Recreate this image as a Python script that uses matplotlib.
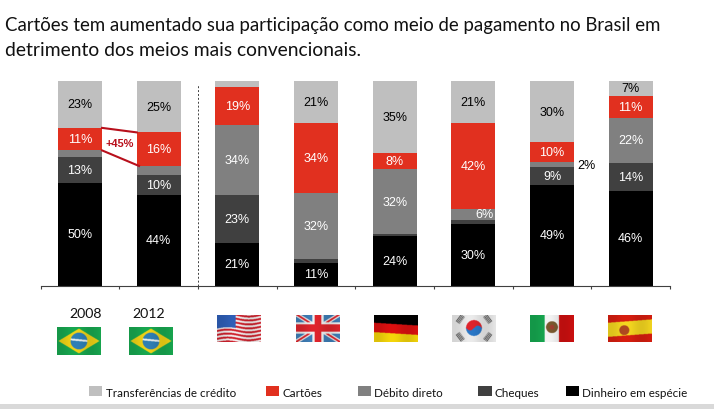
import numpy as np
import matplotlib
matplotlib.use('Agg')
import matplotlib.pyplot as plt
from matplotlib.patches import Rectangle

W, H = 714, 410

# bottom to top
dinheiro = [50, 44, 21, 11, 24, 30, 49, 46]
cheques = [13, 10, 23, 1.8, 1, 2, 8.8, 13.8]
debito = [3, 4.4, 34.4, 32.2, 31.9, 5.5, 2.3, 22.1]
cartoes = [11, 16.4, 18.6, 34.2, 7.7, 41.7, 9.9, 10.8]
transf = [23, 25.2, 3, 20.8, 35.4, 20.8, 30, 7.3]

dinheiro_lab = ['50%', '44%', '21%', '11%', '24%', '30%', '49%', '46%']
cheques_lab = ['13%', '10%', '23%', '', '', '', '9%', '14%']
debito_lab = ['', '', '34%', '32%', '32%', '6%', '2%', '22%']
cartoes_lab = ['11%', '16%', '19%', '34%', '8%', '42%', '10%', '11%']
transf_lab = ['23%', '25%', '', '21%', '35%', '21%', '30%', '7%']

legend_names = ['Transferências de crédito', 'Cartões', 'Débito direto', 'Cheques', 'Dinheiro em espécie']
years = ['2008', '2012']
title = 'Cartões tem aumentado sua participação como meio de pagamento no Brasil em\ndetrimento dos meios mais convencionais.'

C_LIGHT, C_RED, C_GRAY, C_DARK, C_BLACK = '#bfbfbf', '#e1301f', '#808080', '#404040', '#000000'


def axes_px(fig, x0, y0, x1, y1, **kw):
    # pixel box, y measured from the top of the picture
    return fig.add_axes([x0 / W, 1 - y1 / H, (x1 - x0) / W, (y1 - y0) / H], **kw)


def flag(kind):
    u, v = np.meshgrid(np.linspace(0, 1, 132), np.linspace(0, 1, 84))
    wave = v + 0.05 * np.sin(u * 6.5)
    img = np.ones(u.shape + (3,))

    def paint(mask, col):
        img[mask] = matplotlib.colors.to_rgb(col)

    if kind == 'br':
        paint(u > -1, '#18a850')
        paint(np.abs(u - .5) / .47 + np.abs(v - .5) / .45 < 1, '#f2d416')
        r = np.hypot((u - .5) * 44, (v - .5) * 28)
        paint(r < 8.5, '#2f7fb5')
        paint((r < 8.5) & (np.abs(v - .47 - .15 * (u - .5)) < .035), '#e6eef0')
    elif kind == 'us':
        paint(u > -1, '#f4f0f0')
        paint((wave * 7 % 1) < .5, '#d0202c')
        paint((u < .42) & (wave < .52), '#2f5fb8')
    elif kind == 'uk':
        paint(u > -1, '#3f7fb8')
        d1 = np.abs((u - .5) * 44 - (v - .5) * 44)
        d2 = np.abs((u - .5) * 44 + (v - .5) * 44)
        paint((d1 < 4) | (d2 < 4), '#f0f0f0')
        paint((d1 < 1.7) | (d2 < 1.7), '#e0242c')
        paint((np.abs(u - .5) < .13) | (np.abs(v - .5) < .2), '#f0f0f0')
        paint((np.abs(u - .5) < .08) | (np.abs(v - .5) < .13), '#e0242c')
    elif kind == 'de':
        w = v + 0.1 * (u - .5) * -1
        paint(u > -1, '#000000')
        paint(w > .36, '#dd1010')
        paint(w > .7, '#f5d60a')
    elif kind == 'kr':
        paint(u > -1, '#ececec')
        px, py = (u - .5) * 44, (v - .5) * 28
        r = np.hypot(px, py)
        paint(r < 8, '#e0242c')
        paint((r < 8) & (py + 2.5 * np.sin(px / 2.5) > 0), '#2a78c8')
        for sx, sy in [(-1, -1), (1, -1), (-1, 1), (1, 1)]:
            a = (sx * px - 14) * .8 + (sy * py - 9) * .6
            b = -(sx * px - 14) * .6 + (sy * py - 9) * .8
            paint((np.abs(a) < 2.5) & (np.abs(b) < 4.5) & ((a * 1.4 % 2) < 1), '#303030')
    elif kind == 'mx':
        paint(u > -1, '#f4f4f4')
        paint(u < .33, '#16a850')
        paint(u > .66, '#d01010')
        paint(np.hypot((u - .5) * 44, (v - .47) * 28) < 6, '#7a5a30')
        paint(np.hypot((u - .5) * 44, (v - .47) * 28) < 2.5, '#a04030')
    elif kind == 'es':
        w = v + 0.12 * (u - .5)
        paint(u > -1, '#d81e10')
        paint((w > .25) & (w < .76), '#f6d820')
        paint(np.hypot((u - .37) * 44, (v - .58) * 28) < 5, '#b04a20')
    shade = 1 - 0.10 * (0.5 + 0.5 * np.sin(u * 9 + 1))
    return np.clip(img * shade[..., None], 0, 1)


fig = plt.figure(figsize=(W / 100, H / 100), dpi=100)
plt.rcParams['font.family'] = ['Liberation Sans', 'DejaVu Sans']

ax = axes_px(fig, 40.7, 81.8, 670, 286.5)
x = np.arange(8)
series = [dinheiro, cheques, debito, cartoes, transf]
labels = [dinheiro_lab, cheques_lab, debito_lab, cartoes_lab, transf_lab]
colors = [C_BLACK, C_DARK, C_GRAY, C_RED, C_LIGHT]
txt_colors = ['white', 'white', 'white', 'white', 'black']
width = 0.56

bottom = np.zeros(8)
for vals, labs, col, tc in zip(series, labels, colors, txt_colors):
    vals = np.array(vals, dtype=float)
    ax.bar(x, vals, width, bottom=bottom, color=col, linewidth=0)
    for i, lab in enumerate(labs):
        if not lab:
            continue
        xx, c = x[i], tc
        if lab == '6%':
            xx = x[i] + 0.14
        if lab == '2%':
            xx, c = x[i] + 0.44, 'black'
        ax.text(xx, bottom[i] + vals[i] / 2, lab, color=c, ha='center', va='center',
                fontsize=9.0, clip_on=False)
    bottom += vals

ax.set_xlim(-0.5, 7.5)
ax.set_ylim(0, 100)
for s in ['top', 'left', 'right']:
    ax.spines[s].set_visible(False)
ax.spines['bottom'].set_color('#404040')
ax.set_yticks([])
ax.set_xticks(np.arange(-0.5, 8, 1))
ax.set_xticklabels([])
ax.tick_params(axis='x', length=2.5, width=0.8, color='#404040')

# +45% connector between the two red segments
red_lo = np.array(dinheiro) + np.array(cheques) + np.array(debito)
red_hi = red_lo + np.array(cartoes)
ax.plot([x[0] + width / 2, x[1] - width / 2], [red_hi[0], red_hi[1]], color='#b8101c', lw=1.5, clip_on=False)
ax.plot([x[0] + width / 2, x[1] - width / 2 + 0.03], [red_lo[0], red_lo[1]], color='#b8101c', lw=1.5, clip_on=False)
ax.text(0.5, 69.4, '+45%', color='#b8101c', fontsize=7.9, fontweight='bold', ha='center', va='center')
ax.axvline(1.5, ymin=0, ymax=0.98, color='#404040', lw=0.7, ls=(0, (2, 2)))

# title, years, legend in pixel positions
fig.text(5 / W, 1 - 16.5 / H, title.split('\n')[0], family='Lato', fontsize=13.45, va='top', ha='left', color='#111111')
fig.text(5 / W, 1 - 41.5 / H, title.split('\n')[1], family='Lato', fontsize=13.9, va='top', ha='left', color='#111111')
for t, px in zip(years, [85.7, 148.3]):
    fig.text(px / W, 1 - 314 / H, t, family='Lato', fontsize=10.2, ha='center', va='center', color='#111111')

leg_x = [89, 266, 358, 478.3, 565.7]
for name, col, px in zip(legend_names, [C_LIGHT, C_RED, C_GRAY, C_DARK, C_BLACK], leg_x):
    fig.patches.append(Rectangle((px / W, 1 - 397 / H), 13.3 / W, 9.7 / H, transform=fig.transFigure,
                                 facecolor=col, linewidth=0, figure=fig))
    fig.text((px + 16.5) / W, 1 - 394 / H, name, family='Lato', fontsize=8.4, va='center', ha='left', color='#111111')
fig.patches.append(Rectangle((0, 0), 1, 5 / H, transform=fig.transFigure, facecolor='#d9d9d9', linewidth=0, figure=fig))

# flags
flags = [('br', 57, 328.3), ('br', 129.3, 328.3), ('us', 217.3, 315.7), ('uk', 295.7, 315.7),
         ('de', 373.7, 315.7), ('kr', 451.7, 315.7), ('mx', 529.7, 315.7), ('es', 607.7, 315.7)]
for kind, fx, fy in flags:
    a = axes_px(fig, fx, fy, fx + 43.6, fy + 27.5)
    a.imshow(flag(kind), aspect='auto', interpolation='bilinear')
    a.axis('off')

fig.savefig('out.png', dpi=100)
